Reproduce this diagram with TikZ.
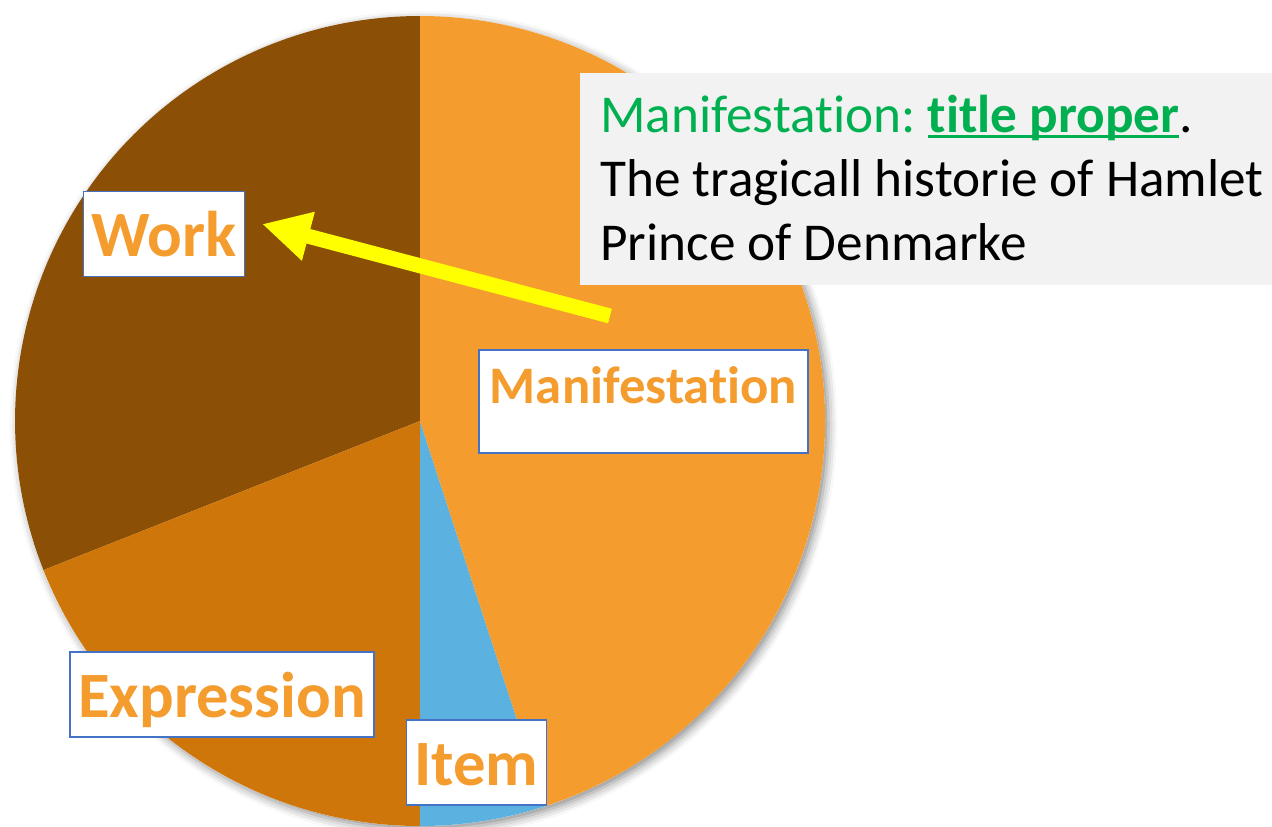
\documentclass[tikz,border=0pt]{standalone}
\usepackage{fontspec}
\setmainfont{Carlito}[Ligatures={NoCommon}, RawFeature={-liga}]
\usetikzlibrary{arrows.meta, positioning, shadows.blur}

\definecolor{workbrown}{RGB}{139,79,5}
\definecolor{exprorange}{RGB}{206,118,10}
\definecolor{maniorange}{RGB}{244,156,46}
\definecolor{itemblue}{RGB}{91,178,224}
\definecolor{boxblue}{RGB}{68,114,196}
\definecolor{notegray}{RGB}{242,242,242}
\definecolor{titlegreen}{RGB}{0,176,80}
\definecolor{hlyellow}{RGB}{255,255,0}

\newcommand{\ulbar}[1]{\setbox0=\hbox{#1}\rlap{\rule[-0.12em]{\wd0}{0.06em}}\box0}
\frenchspacing

\tikzset{
  etiqueta/.style={draw=boxblue, line width=0.85pt, fill=white, text=maniorange,
    font=\bfseries\fontsize{36.8pt}{42pt}\selectfont,
    inner xsep=0.16cm, inner ysep=0.08cm, text height=1.22cm, text depth=0.32cm},
  notatexto/.style={font=\fontsize{30.3pt}{36pt}\selectfont, inner sep=0pt, anchor=base west},
  pointer/.style={draw=hlyellow, line width=0.3cm, -{Triangle[length=0.96cm, width=0.94cm]}}
}

\begin{document}
\begin{tikzpicture}[x=0.02cm, y=0.02cm]
\useasboundingbox (0,0) rectangle (1272,-826);

% Sombra del circulo
\coordinate (C) at (420,-421);
\path[fill=white, blur shadow={shadow xshift=2pt, shadow yshift=-2pt, shadow blur radius=5pt, shadow opacity=45}] (C) circle[radius=405];

% Sectores
\fill[workbrown] (C) -- ++(90:405) arc[start angle=90, end angle=201.6, radius=405] -- cycle;
\fill[exprorange] (C) -- ++(201.6:405) arc[start angle=201.6, end angle=270, radius=405] -- cycle;
\fill[itemblue] (C) -- ++(270:405) arc[start angle=270, end angle=288, radius=405] -- cycle;
\fill[maniorange] (C) -- ++(288:405) arc[start angle=288, end angle=450, radius=405] -- cycle;

% Flecha
\coordinate (tail) at (610,-316);
\coordinate (tip) at (262,-224);
\draw[pointer] (tail) -- (tip);

% Nota
\fill[notegray] (580,-73) rectangle (1272,-285);
\node[notatexto, text=titlegreen] (mtitle) at (600,-132) {Manifestation: \ulbar{\textbf{title proper}}\textcolor{black}{.}};
\node[notatexto] (mline2) at (600,-196) {The tragicall historie of Hamlet};
\node[notatexto] (mline3) at (600,-260) {Prince of Denmarke};

% Etiquetas
\node[etiqueta] (work) at (164,-234) {Work};
\node[etiqueta] (expr) at (222,-694.5) {Expression};
\node[etiqueta] (item) at (476.5,-762.5) {Item};
\node[etiqueta, font=\bfseries\fontsize{30pt}{35pt}\selectfont, inner xsep=0.22cm, text height=0.98cm, text depth=0.92cm] (mani) at (643.5,-401.5) {Manifestation};

\end{tikzpicture}
\end{document}
